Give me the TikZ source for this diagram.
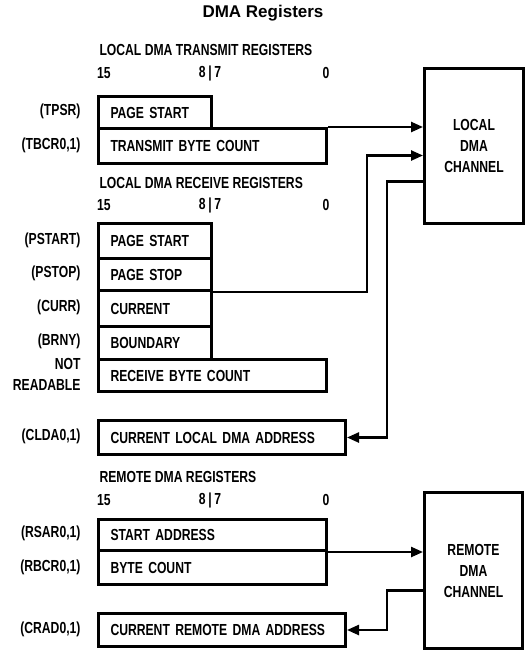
\documentclass[tikz,border=0pt]{standalone}
\usepackage{fontspec}
\setmainfont{Liberation Sans}
\newfontfamily\regfont{Liberation Sans}[FakeStretch=0.76]
\usetikzlibrary{arrows.meta}

\begin{document}
\begin{tikzpicture}[x=1pt, y=-1pt, >={Triangle[length=12pt,width=10pt]},
  font=\regfont\bfseries\fontsize{16}{18}\selectfont,
  reg/.style={draw, line width=3pt, anchor=north west, inner xsep=12pt,
    inner ysep=0pt, text height=11.5pt, text depth=0pt, align=left},
  chan/.style={draw, line width=3pt, anchor=north west, align=center,
    font=\regfont\bfseries\fontsize{16}{21}\selectfont},
  conn/.style={line width=2.4pt},
  regname/.style={anchor=east, align=right, font=\regfont\bfseries\fontsize{16}{21}\selectfont}]
\useasboundingbox (0,0) rectangle (527,654);

\node[font=\bfseries\fontsize{17}{20}\selectfont] (title) at (263,13) {DMA Registers};

% local transmit
\node[anchor=west] (txhead) at (96,50) {LOCAL DMA TRANSMIT REGISTERS};
\node (txb15) at (104,73) {15};
\node (txb87) at (210,73) {8\,|\,7};
\node (txb0) at (326,73) {0};

\node[reg, text width=89pt, minimum height=32pt] (tpsr) at (97,95) {PAGE START};
\node[reg, text width=204pt, minimum height=35pt] (tbcr) at (97,127) {TRANSMIT BYTE COUNT};
\node[regname] (tpsrname) at (84,111) {(TPSR)};
\node[regname] (tbcrname) at (84,145) {(TBCR0,1)};

% local receive
\node[anchor=west] (rxhead) at (96,183) {LOCAL DMA RECEIVE REGISTERS};
\node (rxb15) at (104,205) {15};
\node (rxb87) at (210,205) {8\,|\,7};
\node (rxb0) at (326,205) {0};

\node[reg, text width=89pt, minimum height=35pt] (pstart) at (97,222) {PAGE START};
\node[reg, text width=89pt, minimum height=32pt] (pstop) at (97,257) {PAGE STOP};
\node[reg, text width=89pt, minimum height=36pt] (curr) at (97,289) {CURRENT};
\node[reg, text width=89pt, minimum height=33pt] (bnry) at (97,325) {BOUNDARY};
\node[reg, text width=204pt, minimum height=32pt] (rbc) at (97,358) {RECEIVE BYTE COUNT};
\node[reg, text width=223pt, minimum height=34pt] (clda) at (97,419) {CURRENT LOCAL DMA ADDRESS};
\node[regname] (pstartname) at (84,240) {(PSTART)};
\node[regname] (pstopname) at (84,273) {(PSTOP)};
\node[regname] (currname) at (84,307) {(CURR)};
\node[regname] (bnryname) at (84,341) {(BRNY)};
\node[regname] (rbcname) at (84,374) {NOT\\READABLE};
\node[regname] (cldaname) at (84,436) {(CLDA0,1)};

\node[chan, minimum width=99pt, minimum height=155pt] (lch) at (423,67) {LOCAL\\DMA\\CHANNEL};

% remote
\node[anchor=west] (rmhead) at (96,477) {REMOTE DMA REGISTERS};
\node (rmb15) at (104,500) {15};
\node (rmb87) at (210,500) {8\,|\,7};
\node (rmb0) at (326,500) {0};

\node[reg, text width=204pt, minimum height=31pt] (rsar) at (97,518) {START ADDRESS};
\node[reg, text width=204pt, minimum height=34pt] (rbcr) at (97,549) {BYTE COUNT};
\node[reg, text width=223pt, minimum height=33pt] (crda) at (97,612) {\mbox{CURRENT REMOTE DMA ADDRESS}};
\node[regname] (rsarname) at (84,533) {(RSAR0,1)};
\node[regname] (rbcrname) at (84,567) {(RBCR0,1)};
\node[regname] (crdaname) at (84,629) {(CRAD0,1)};

\node[chan, minimum width=98pt, minimum height=156pt] (rch) at (423,491) {REMOTE\\DMA\\CHANNEL};

% connectors
\draw[conn,->] (tbcr.north east) -- (tbcr.north east -| lch.west);
\draw[conn,->] (pstop.south east) -- ++(154,0) |- ([yshift=-9.5pt]lch.west);
\draw[conn,->] ([yshift=-35.5pt]lch.west) -- ++(-36,0) |- (clda.east);
\draw[conn,->] (rsar.south east) -- (rsar.south east -| rch.west);
\draw[conn,->] ([yshift=-20pt]rch.west) -- ++(-36,0) |- (crda.east);
\end{tikzpicture}
\end{document}
